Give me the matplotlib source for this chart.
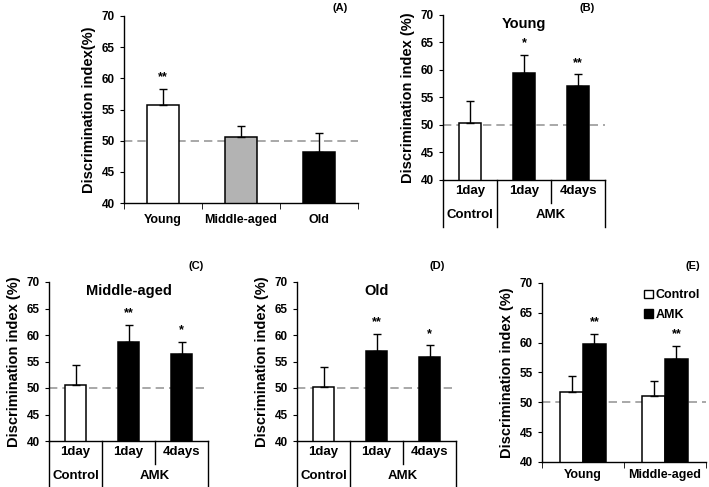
import matplotlib
matplotlib.use("Agg")
import matplotlib.pyplot as plt
from matplotlib.patches import Patch
import matplotlib.transforms as mtransforms

plt.rcParams.update({
    "font.family": ["Liberation Sans", "DejaVu Sans"],
    "font.weight": "bold",
    "axes.labelweight": "bold",
    "axes.titleweight": "bold",
    "axes.spines.top": False,
    "axes.spines.right": False,
})

# ---- data -------------------------------------------------------------
a_groups = ["Young", "Middle-aged", "Old"]
a_means = [55.8, 50.6, 48.2]
a_errs = [2.5, 1.8, 3.0]
a_stars = ["**", "", ""]
a_colors = ["white", "#b3b3b3", "black"]

time_labels = ["1day", "1day", "4days"]
b_means = [50.4, 59.5, 57.0]      # Young
b_errs = [3.9, 3.2, 2.2]
b_stars = ["", "*", "**"]
c_means = [50.6, 58.6, 56.4]      # Middle-aged
c_errs = [3.8, 3.3, 2.3]
c_stars = ["", "**", "*"]
d_means = [50.1, 57.0, 55.8]      # Old
d_errs = [3.9, 3.2, 2.3]
d_stars = ["", "**", "*"]
treat_colors = ["white", "black", "black"]

e_groups = ["Young", "Middle-aged"]
e_ctrl = [51.8, 51.1]
e_ctrl_err = [2.6, 2.4]
e_amk = [59.7, 57.2]
e_amk_err = [1.7, 2.2]
e_stars = ["**", "**"]

y_ticks = [40, 45, 50, 55, 60, 65, 70]

W, H = 709, 487
fig = plt.figure(figsize=(W / 100, H / 100), dpi=100)


def px_axes(l, t, r, b):
    return fig.add_axes([l / W, 1 - b / H, (r - l) / W, (b - t) / H])


def style_y(ax, label):
    ax.set_ylim(40, 70)
    ax.set_yticks(y_ticks, [str(v) for v in y_ticks], fontweight="bold", fontsize=8.5)
    ax.tick_params(axis="y", length=3, direction="out")
    ax.set_ylabel(label, fontsize=10.5, labelpad=4)
    ax.axhline(50, color="#999999", lw=1.2, ls=(0, (5, 3)), zorder=0.5)
    for s in ("left", "bottom"):
        ax.spines[s].set_linewidth(1.0)


def bars(ax, x, means, errs, colors, width):
    ax.bar(x, means, width=width, color=colors, edgecolor="black", lw=1.1, zorder=2)
    ax.errorbar(x, means, yerr=[[0] * len(errs), errs], fmt="none", ecolor="black",
                elinewidth=1.0, capsize=3, capthick=1.0, zorder=3)


def stars(ax, x, means, errs, marks):
    for xi, m, e, s in zip(x, means, errs, marks):
        if s:
            ax.text(xi, m + e + 1.0, s, ha="center", va="bottom", fontsize=9)


# ---- (A) --------------------------------------------------------------
ax = px_axes(124, 16, 358, 203)
xa = list(range(len(a_groups)))
bars(ax, xa, a_means, a_errs, a_colors, 0.4)
stars(ax, xa, a_means, a_errs, a_stars)
ax.set_xlim(-0.5, 2.5)
ax.set_xticks(xa, a_groups, fontsize=9, fontweight="bold")
ax.tick_params(axis="x", length=0, pad=8)
ax.set_xticks([-0.5, 0.5, 1.5, 2.5], minor=True)
ax.tick_params(axis="x", which="minor", length=4)
style_y(ax, "Discrimination index(%)")
fig.text(340 / W, 1 - 8 / H, "(A)", fontsize=8, ha="center", va="center")


# ---- (B)(C)(D) with two-level category table ---------------------------
def panel(box, means, errs, marks, title, tag, tagxy):
    l, t, r, b = box
    ax = px_axes(*box)
    x = list(range(3))
    bars(ax, x, means, errs, treat_colors, 0.39)
    stars(ax, x, means, errs, marks)
    ax.set_xlim(-0.5, 2.5)
    ax.set_xticks([])
    style_y(ax, "Discrimination index (%)")
    ax.text(0.5, 0.99, title, transform=ax.transAxes, ha="center", va="top",
            fontsize=10.5)
    h = b - t
    row1 = -23 / h
    row2 = -47 / h
    trans = mtransforms.blended_transform_factory(ax.transData, ax.transAxes)
    kw = dict(color="black", lw=1.0, clip_on=False, transform=trans)
    ax.plot([-0.5, -0.5], [0, row2], **kw)
    ax.plot([0.5, 0.5], [0, row2], **kw)
    ax.plot([1.5, 1.5], [0, row1], **kw)
    ax.plot([2.5, 2.5], [0, row2], **kw)
    for xi, lab in zip(x, time_labels):
        ax.text(xi, row1 / 2, lab, transform=trans, ha="center", va="center", fontsize=9.5)
    ax.text(0, (row1 + row2) / 2, "Control", transform=trans, ha="center", va="center", fontsize=9.5)
    ax.text(1.5, (row1 + row2) / 2, "AMK", transform=trans, ha="center", va="center", fontsize=9.5)
    fig.text(tagxy[0] / W, 1 - tagxy[1] / H, tag, fontsize=8, ha="center", va="center")


panel((443, 15, 605, 180), b_means, b_errs, b_stars, "Young", "(B)", (587, 8))
panel((49, 282, 208, 441), c_means, c_errs, c_stars, "Middle-aged", "(C)", (196, 266))
panel((297, 282, 456, 441), d_means, d_errs, d_stars, "Old", "(D)", (437, 266))

# ---- (E) --------------------------------------------------------------
ax = px_axes(542, 283, 706, 462)
xe = [0, 1]
w = 0.28
bars(ax, [v - w / 2 for v in xe], e_ctrl, e_ctrl_err, ["white"] * 2, w)
bars(ax, [v + w / 2 for v in xe], e_amk, e_amk_err, ["black"] * 2, w)
stars(ax, [v + w / 2 for v in xe], e_amk, e_amk_err, e_stars)
ax.set_xlim(-0.5, 1.5)
ax.set_xticks(xe, e_groups, fontsize=9, fontweight="bold")
ax.tick_params(axis="x", length=0, pad=5)
ax.set_xticks([-0.5, 0.5, 1.5], minor=True)
ax.tick_params(axis="x", which="minor", length=4)
style_y(ax, "Discrimination index (%)")
handles = [Patch(facecolor="white", edgecolor="black", label="Control"),
           Patch(facecolor="black", edgecolor="black", label="AMK")]
ax.legend(handles=handles, loc="upper right", frameon=False, fontsize=9,
          handlelength=0.7, handleheight=0.7, handletextpad=0.2,
          labelspacing=0.6, borderaxespad=0.1)
fig.text(693 / W, 1 - 266 / H, "(E)", fontsize=8, ha="center", va="center")

fig.savefig("out.png", dpi=100)
